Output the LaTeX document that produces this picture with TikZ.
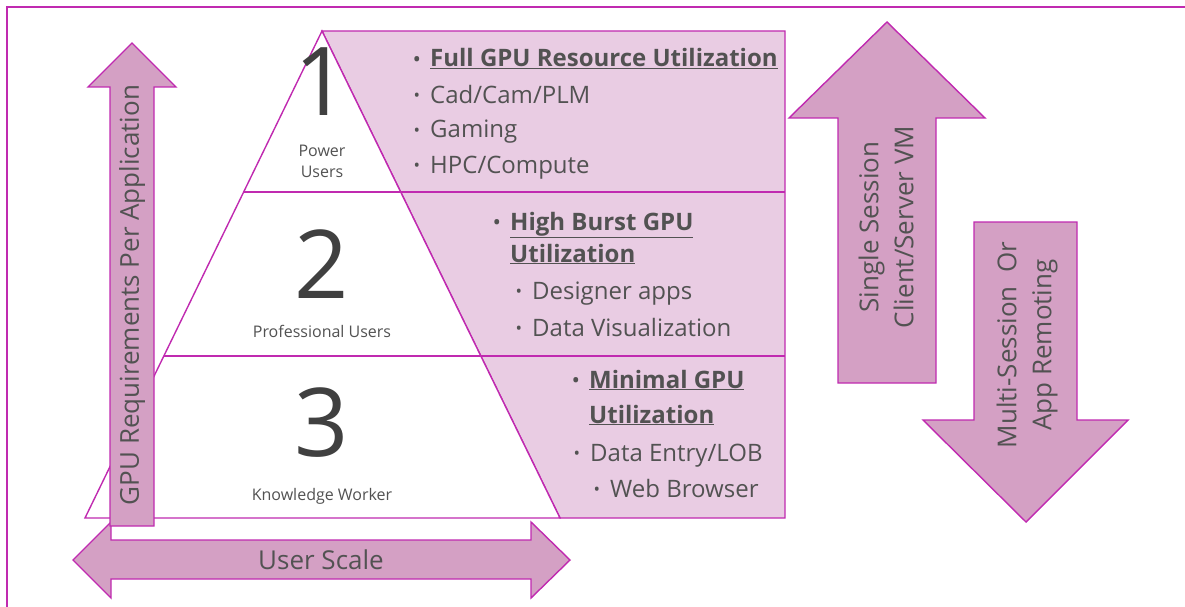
\documentclass[tikz,border=0pt]{standalone}
\usepackage{fontspec}
\setmainfont{Open Sans}
\definecolor{mag}{HTML}{C02AB0}
\definecolor{panel}{HTML}{E9CCE3}
\definecolor{arrowfill}{HTML}{D4A0C4}
\definecolor{txt}{HTML}{525252}
\definecolor{digit}{HTML}{404040}
\newcommand{\smallbul}{\raisebox{0.08em}{\scalebox{0.72}{\textbullet}}}
\newcommand{\bul}[1]{\llap{\smallbul\hspace{10pt}}#1}
\newcommand{\bulu}[1]{\llap{\smallbul\hspace{10pt}}\underline{#1}}
\begin{document}
\begin{tikzpicture}[x=1pt,y=-1pt,
  edge/.style={draw=mag,line width=1.4pt,line join=miter},
  arrowshape/.style={edge,fill=arrowfill},
  body/.style={inner sep=0pt,anchor=base west,text=txt,font=\fontsize{24}{28}\selectfont},
  bodyb/.style={body,font=\fontsize{24}{28}\selectfont\bfseries},
  digitlabel/.style={inner sep=0pt,anchor=base,text=digit,font=\fontsize{95}{100}\selectfont},
  tierlabel/.style={inner sep=0pt,anchor=base,text=txt,font=\fontsize{16}{21}\selectfont},
  arrowtext/.style={inner sep=0pt,text=txt,rotate=90,align=center,font=\fontsize{26}{35}\selectfont}]
\useasboundingbox (0,0) rectangle (1185,607);
% frame
\draw[mag,line width=1.2pt] (7,607) -- (7,7) -- (1185,7);
% User scale arrow
\draw[arrowshape] (73,560) -- (111,522) -- (111,540) -- (531,540) -- (531,522) -- (570,560) -- (531,598) -- (531,579) -- (111,579) -- (111,598) -- cycle;
% pink panel
\draw[edge,fill=panel] (322,31) -- (785,31) -- (785,518) -- (560,518) -- cycle;
% pyramid
\draw[edge,fill=white] (322,31) -- (85,518) -- (560,518) -- cycle;
\draw[edge] (243.7,192) -- (785,192);
\draw[edge] (164.2,356) -- (785,356);
% left vertical arrow
\draw[arrowshape] (110,526) -- (110,87) -- (88,87) -- (132,43) -- (176,87) -- (154,87) -- (154,526) -- cycle;
% right arrows
\draw[arrowshape] (838,383) -- (838,118) -- (789,118) -- (887,22) -- (985,118) -- (936,118) -- (936,383) -- cycle;
\draw[arrowshape] (974,222) -- (1077,222) -- (1077,420) -- (1128,420) -- (1026,522) -- (923,420) -- (974,420) -- cycle;
% arrow texts
\node[arrowtext] (gpu) at (132,295) {GPU Requirements Per Application};
\node[inner sep=0pt,text=txt,font=\fontsize{26}{30}\selectfont] (scale) at (321,560) {User Scale};
\node[arrowtext] (single) at (886,227) {Single Session\\Client/Server VM};
\node[arrowtext] (multi) at (1027,345) {Multi-Session\ \ Or\\App Remoting};
% tier labels
\node[digitlabel] (d1) at (322,116) {1};
\node[tierlabel] (p1) at (322,156) {Power};
\node[tierlabel] (p2) at (322,177) {Users};
\node[digitlabel] (d2) at (322,298) {2};
\node[tierlabel] (pro) at (322,337) {Professional Users};
\node[digitlabel] (d3) at (322,456) {3};
\node[tierlabel] (kw) at (322,500) {Knowledge Worker};
% tier 1
\node[bodyb] (t1a) at (430,67) {\bulu{Full GPU Resource Utilization}};
\node[body] (t1b) at (430,103) {\bul{Cad/Cam/PLM}};
\node[body] (t1c) at (430,138) {\bul{Gaming}};
\node[body] (t1d) at (430,173) {\bul{HPC/Compute}};
% tier 2
\node[bodyb] (t2a) at (510,230) {\bulu{High Burst GPU}};
\node[bodyb] (t2b) at (510,262) {\underline{Utilization}};
\node[body] (t2c) at (532,299) {\bul{Designer apps}};
\node[body] (t2d) at (532,336) {\bul{Data Visualization}};
% tier 3
\node[bodyb] (t3a) at (589,388) {\bulu{Minimal GPU}};
\node[bodyb] (t3b) at (589,423) {\underline{Utilization}};
\node[body] (t3c) at (590,461) {\bul{Data Entry/LOB}};
\node[body] (t3d) at (610,497) {\bul{Web Browser}};
\end{tikzpicture}
\end{document}
